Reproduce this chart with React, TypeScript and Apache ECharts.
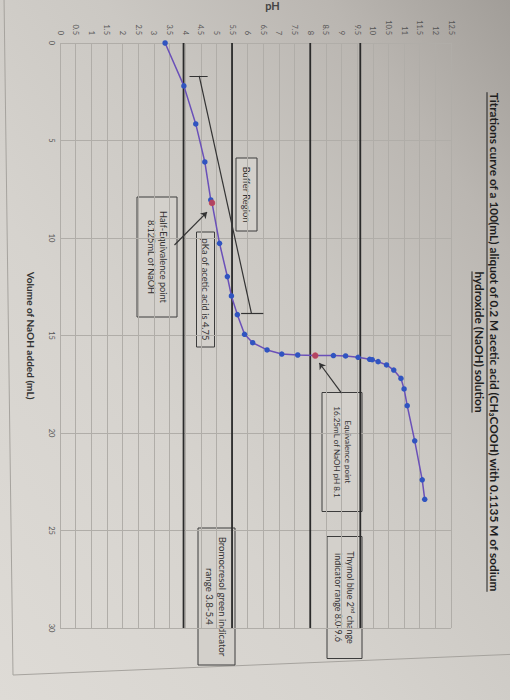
import React, { useEffect, useRef } from 'react';
import * as echarts from 'echarts';

// Titration data (volume of NaOH in mL, pH)
const volumeML = [0, 2.2, 4.15, 6.1, 8.05, 8.2, 10.27, 11.98, 12.97, 13.93, 14.94, 15.37, 15.74, 15.95, 16.0, 16.03, 16.03, 16.05, 16.12, 16.22, 16.24, 16.34, 16.51, 16.77, 17.2, 17.74, 18.6, 20.4, 22.4, 23.4];
const pHValues = [3.36, 3.96, 4.34, 4.63, 4.82, 4.86, 5.1, 5.35, 5.48, 5.67, 5.9, 6.16, 6.62, 7.09, 7.6, 8.16, 8.74, 9.13, 9.53, 9.9, 9.98, 10.17, 10.44, 10.67, 10.9, 11.0, 11.1, 11.34, 11.58, 11.66];

// Highlighted points: half-equivalence and equivalence
const keyVolume = [8.2, 16.03];
const keyPH = [4.86, 8.16];

// Indicator range lines (pH)
const indicatorPH = [3.95, 5.5, 8.0, 9.6];

// Buffer-region bracket [pH, volume]
const bracketTopCap = [[4.14, 1.68], [4.72, 1.68]];
const bracketDiagonal = [[4.45, 1.68], [6.12, 13.86]];
const bracketBottomCap = [[5.79, 13.86], [6.5, 13.86]];

// Annotation arrows [pH, volume] from box to point
const halfEqArrow = [[3.66, 10.36], [4.7, 8.67]];
const eqArrow = [[9.0, 17.95], [8.29, 16.41]];

const titleLine1 = 'Titrations curve of a 100(mL) aliquot of 0.2 M acetic acid (CH\u2083COOH) with 0.1135 M of sodium';
const titleLine2 = 'hydroxide (NaOH) solution';

const W = 510;
const H = 700;
const FONT = 'Lato, "Liberation Sans", sans-serif';
const BOX_FILL = '#d3d0cb';
const BOX_STROKE = '#3c3c3c';

export default function App() {
  const ref = useRef<HTMLDivElement>(null);
  useEffect(() => {
    const el = ref.current!;
    const chart = echarts.init(el, null, { renderer: 'svg', width: W, height: H });

    const ctx = document.createElement('canvas').getContext('2d')!;
    const measure = (text: string, size: number, bold = false) => {
      ctx.font = `${bold ? 'bold ' : ''}${size}px Lato`;
      return ctx.measureText(text).width;
    };
    // font size that makes `text` span `target` pixels
    const fit = (text: string, target: number, bold = false) => {
      const s = (10 * target) / measure(text, 10, bold);
      return Math.max(7, Math.min(14, s));
    };

    const box = (cx: number, cy: number, len: number, thick: number, lines: string[], fitLine: string, target: number, rich?: any) => {
      const fontSize = fit(fitLine, target);
      return {
        type: 'group',
        x: cx,
        y: cy,
        rotation: -Math.PI / 2,
        z: 50,
        children: [
          {
            type: 'rect',
            shape: { x: -len / 2, y: -thick / 2, width: len, height: thick },
            style: { fill: BOX_FILL, stroke: BOX_STROKE, lineWidth: 1 },
          },
          {
            type: 'text',
            x: 0,
            y: 0,
            style: {
              text: lines.join('\n'),
              fontSize,
              fontFamily: FONT,
              fill: '#333',
              align: 'center',
              verticalAlign: 'middle',
              lineHeight: Math.round(fontSize * 1.3),
              rich: rich ? { sup: { ...rich.sup, fontSize: fontSize * 0.65 } } : undefined,
            },
          },
        ],
      };
    };

    const titleFontSize = fit(titleLine1, 500, true);
    const w1 = measure(titleLine1, titleFontSize, true);
    const w2 = measure(titleLine2, titleFontSize, true);
    const titleCy = 342;
    const axisNameSize = fit('Volume of NaOH added (mL)', 128, true);

    const curve = volumeML.map((v, i) => [pHValues[i], v]);
    const keys = keyVolume.map((v, i) => [keyPH[i], v]);

    const indicatorSeries = indicatorPH.map((p) => ({
      type: 'line',
      data: [[p, 0], [p, 30]],
      symbol: 'none',
      silent: true,
      z: 1,
      lineStyle: { color: '#2a2a2a', width: 1.8 },
    }));

    const option: any = {
      animation: false,
      grid: { left: 60, top: 43, width: 391, height: 585, outerBoundsMode: 'none' },
      xAxis: {
        type: 'value',
        position: 'top',
        min: 0,
        max: 12.5,
        interval: 0.5,
        name: 'pH',
        nameLocation: 'middle',
        nameGap: 32,
        nameTextStyle: { fontSize: 11, fontWeight: 'bold', color: '#444', fontFamily: FONT, padding: [0, 0, 0, 34] },
        axisLine: { show: false },
        axisTick: { show: false },
        axisLabel: { rotate: -90, fontSize: 7.5, color: '#555', margin: 8, fontFamily: FONT },
        splitLine: { show: true, lineStyle: { color: '#b0ada8', width: 1 } },
      },
      yAxis: {
        type: 'value',
        inverse: true,
        min: 0,
        max: 30,
        interval: 5,
        name: 'Volume of NaOH added (mL)',
        nameLocation: 'middle',
        nameRotate: -90,
        nameGap: 24,
        nameTextStyle: { fontSize: axisNameSize, fontWeight: 'bold', color: '#333', fontFamily: FONT },
        axisLine: { show: false },
        axisTick: { show: false },
        axisLabel: { rotate: -90, fontSize: 7.5, color: '#555', margin: 5, fontFamily: FONT },
        splitLine: { show: true, lineStyle: { color: '#b0ada8', width: 1 } },
      },
      series: [
        ...indicatorSeries,
        {
          type: 'lines',
          coordinateSystem: 'cartesian2d',
          silent: true,
          z: 3,
          lineStyle: { color: '#333', width: 1.2, opacity: 1 },
          data: [
            { coords: bracketTopCap },
            { coords: bracketDiagonal },
            { coords: bracketBottomCap },
          ],
        },
        {
          type: 'lines',
          coordinateSystem: 'cartesian2d',
          silent: true,
          z: 6,
          symbol: ['none', 'arrow'],
          symbolSize: 6,
          lineStyle: { color: '#333', width: 1.2, opacity: 1 },
          data: [{ coords: halfEqArrow }, { coords: eqArrow }],
        },
        {
          type: 'line',
          data: curve,
          z: 4,
          symbol: 'circle',
          symbolSize: 5.5,
          showSymbol: true,
          itemStyle: { color: '#3054c0', borderWidth: 0 },
          lineStyle: { color: '#6a50b8', width: 1.5 },
        },
        {
          type: 'scatter',
          data: keys,
          z: 5,
          symbol: 'circle',
          symbolSize: 6.5,
          itemStyle: { color: '#d2404a' },
        },
      ],
      graphic: [
        {
          type: 'polyline',
          z: -10,
          silent: true,
          shape: { points: [[4, -5], [13, 675], [520, 654]] },
          style: { fill: 'none', stroke: '#a6a39e', lineWidth: 1 },
        },
        {
          type: 'text',
          x: 494,
          y: titleCy,
          rotation: -Math.PI / 2,
          z: 60,
          style: { text: titleLine1, fontSize: titleFontSize, fontWeight: 'bold', fontFamily: FONT, fill: '#1e1e1e', align: 'center', verticalAlign: 'middle' },
        },
        {
          type: 'text',
          x: 479,
          y: titleCy,
          rotation: -Math.PI / 2,
          z: 60,
          style: { text: titleLine2, fontSize: titleFontSize, fontWeight: 'bold', fontFamily: FONT, fill: '#1e1e1e', align: 'center', verticalAlign: 'middle' },
        },
        {
          type: 'line',
          z: 60,
          shape: { x1: 487, y1: titleCy - w1 / 2, x2: 487, y2: titleCy + w1 / 2 },
          style: { stroke: '#1e1e1e', lineWidth: 1 },
        },
        {
          type: 'line',
          z: 60,
          shape: { x1: 472, y1: titleCy - w2 / 2, x2: 472, y2: titleCy + w2 / 2 },
          style: { stroke: '#1e1e1e', lineWidth: 1 },
        },
        box(157, 257, 120, 40, ['Half-Equivalence point', '8.125mL of NaOH'], 'Half-Equivalence point', 92),
        box(205.5, 289.5, 115, 18, ['pKa of acetic acid is 4.75'], 'pKa of acetic acid is 4.75', 102),
        box(246.5, 194.5, 73, 21, ['Buffer Region'], 'Buffer Region', 56),
        box(342, 452, 119, 40, ['Equivalence point', '16.25mL of NaOH pH 8.1'], '16.25mL of NaOH pH 8.1', 92),
        box(344.5, 597.5, 122, 35, ['Thymol blue 2{sup|nd} change', 'indicator range 8.0-9.6'], 'Thymol blue 2nd change', 96, {
          sup: { fontFamily: FONT, fill: '#333', verticalAlign: 'top' },
        }),
        box(216.5, 596.5, 137, 37, ['Bromocresol green indicator', 'range 3.8-5.4'], 'Bromocresol green indicator', 120),
      ],
    };

    chart.setOption(option);
    return () => chart.dispose();
  }, []);

  return (
    <div
      ref={ref}
      style={{
        position: 'fixed',
        left: 0,
        top: 0,
        width: W,
        height: H,
        background: 'linear-gradient(to top right, #dedbd6 0%, #d6d3ce 35%, #cbc8c3 60%, #bab6b1 82%, #a19d98 100%)',
      }}
    />
  );
}
